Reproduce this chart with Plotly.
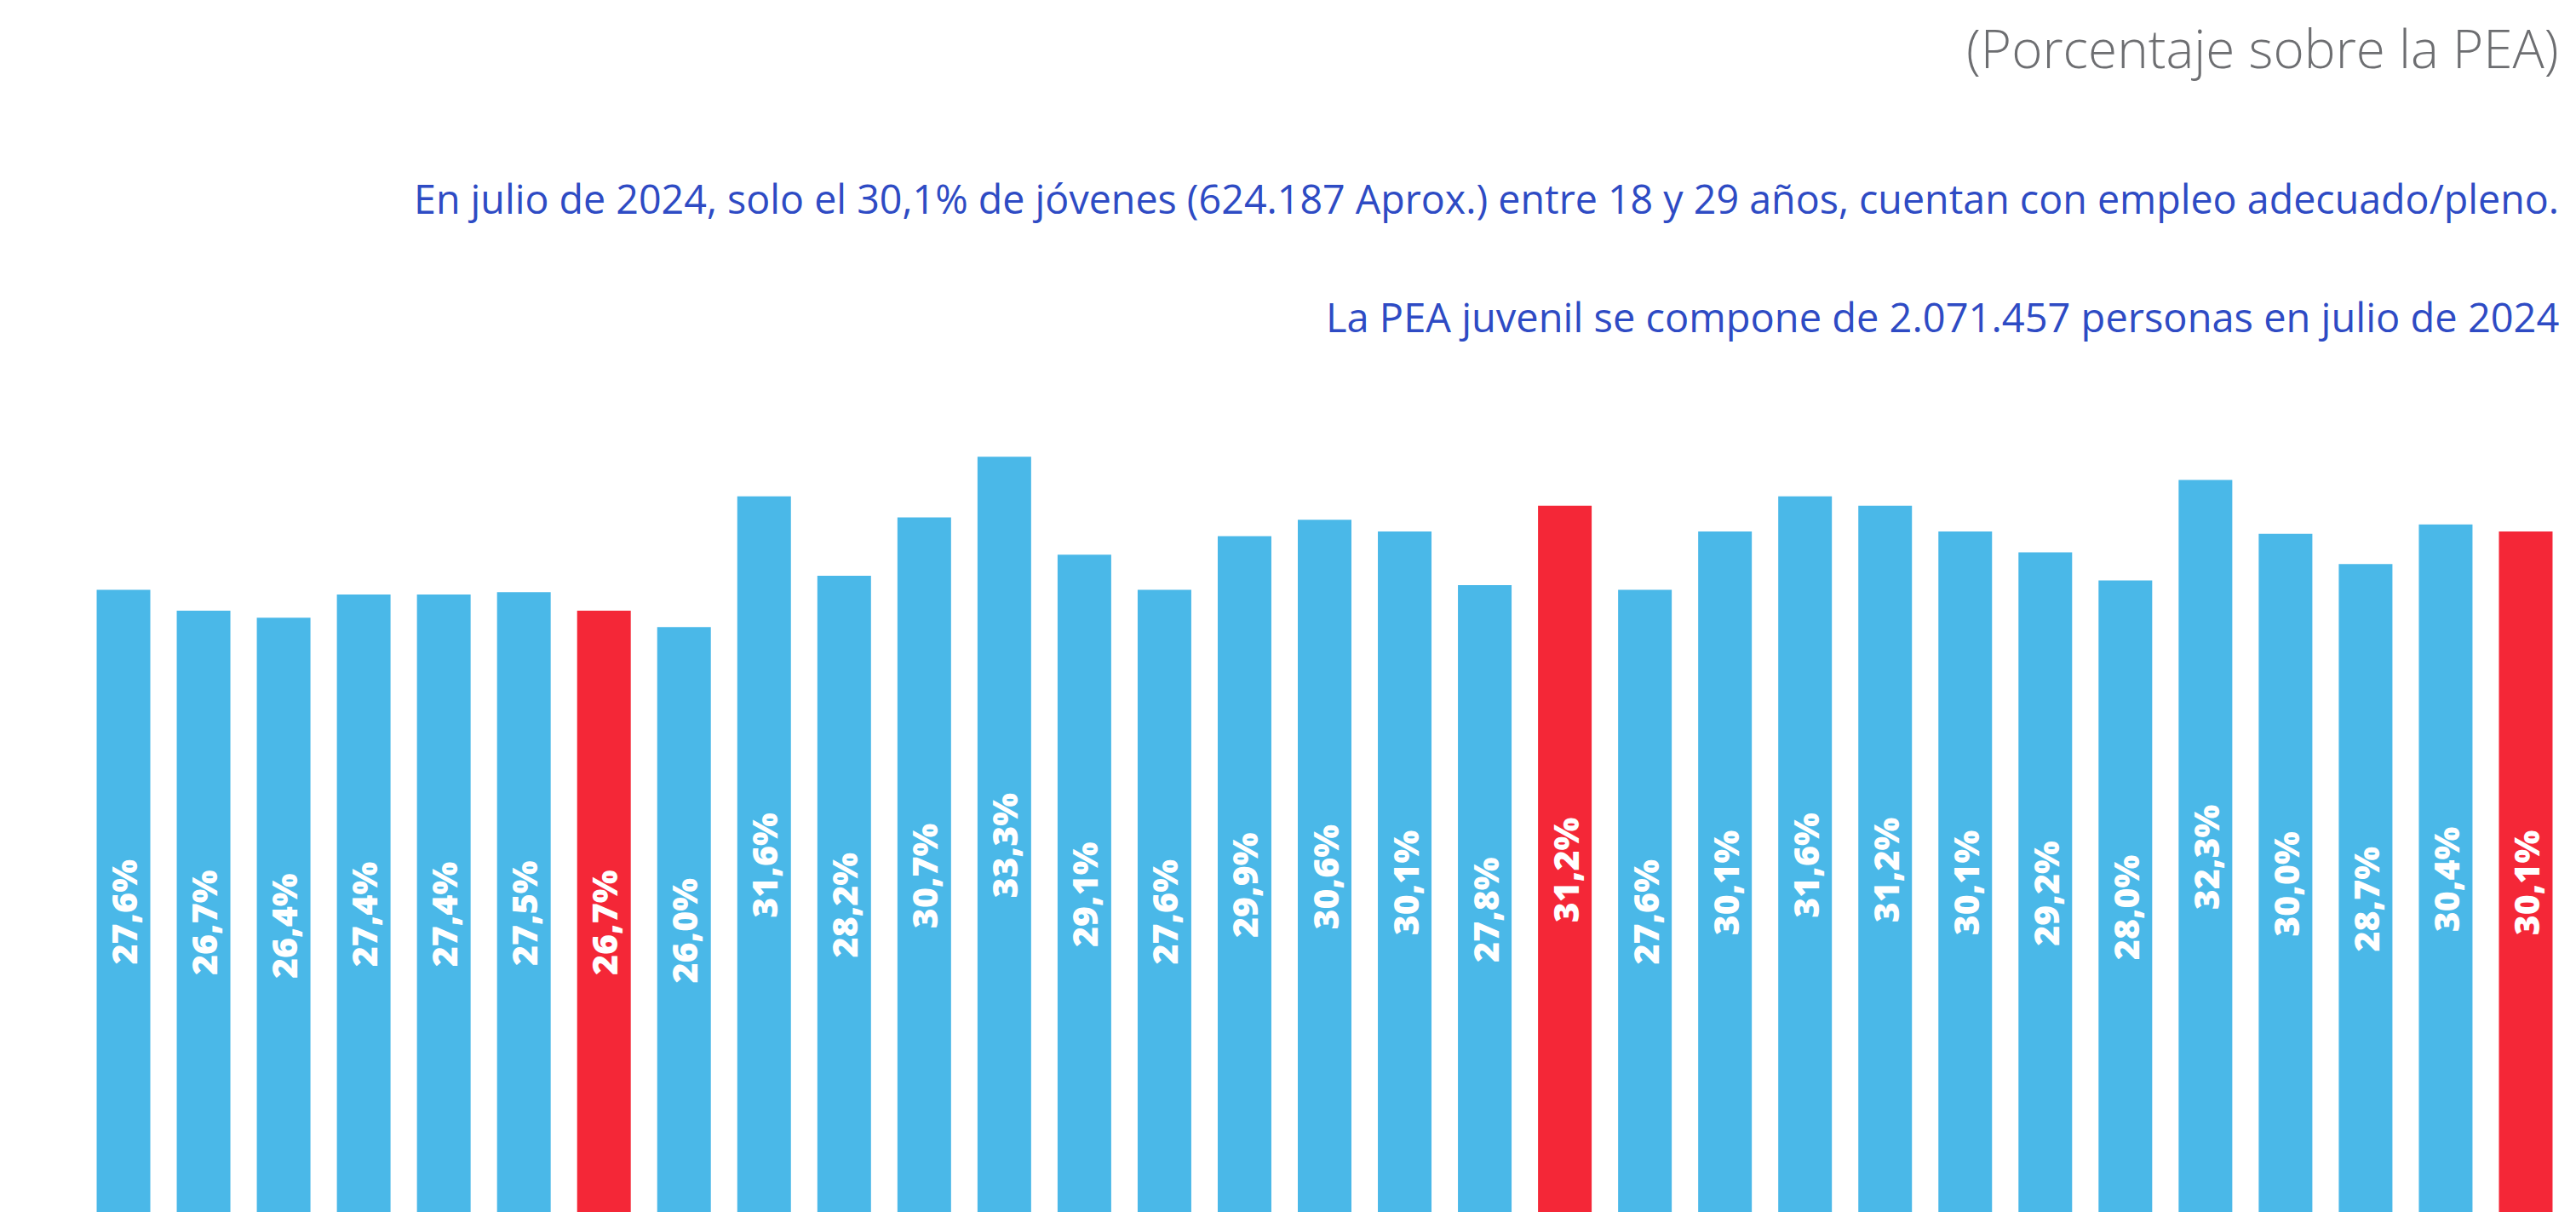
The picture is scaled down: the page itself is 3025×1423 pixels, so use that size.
import plotly.graph_objects as go

# ---- data ----
months = ["ene-22", "feb-22", "mar-22", "abr-22", "may-22", "jun-22", "jul-22",
          "ago-22", "sep-22", "oct-22", "nov-22", "dic-22",
          "ene-23", "feb-23", "mar-23", "abr-23", "may-23", "jun-23", "jul-23",
          "ago-23", "sep-23", "oct-23", "nov-23", "dic-23",
          "ene-24", "feb-24", "mar-24", "abr-24", "may-24", "jun-24", "jul-24"]
empleo_adecuado = [27.6, 26.7, 26.4, 27.4, 27.4, 27.5, 26.7,
                   26.0, 31.6, 28.2, 30.7, 33.3,
                   29.1, 27.6, 29.9, 30.6, 30.1, 27.8, 31.2,
                   27.6, 30.1, 31.6, 31.2, 30.1,
                   29.2, 28.0, 32.3, 30.0, 28.7, 30.4, 30.1]
highlight_months = ["jul-22", "jul-23", "jul-24"]

title_text = "(Porcentaje sobre la PEA)"
note_1 = ("En julio de 2024, solo el 30,1% de jóvenes (624.187 Aprox.) entre 18 y 29 años, "
          "cuentan con empleo adecuado/pleno.")
note_2 = "La PEA juvenil se compone de 2.071.457 personas en julio de 2024"

BLUE = "#4AB8E8"
RED = "#F42737"

colors = [RED if m in highlight_months else BLUE for m in months]
labels = [f"{v:.1f}%".replace(".", ",") for v in empleo_adecuado]

fig = go.Figure(
    go.Bar(
        x=months,
        y=empleo_adecuado,
        marker=dict(color=colors, line=dict(width=0)),
        text=labels,
        textposition="inside",
        insidetextanchor="middle",
        textangle=-90,
        textfont=dict(family="Open Sans, Lato, sans-serif", size=41, color="white", weight=800),
        cliponaxis=False,
        hoverinfo="skip",
    )
)

W, H = 3025, 1423
fig.update_layout(
    width=W, height=H,
    margin=dict(l=98, r=12, t=0, b=0),
    paper_bgcolor="white",
    plot_bgcolor="white",
    bargap=0.33,
    showlegend=False,
    xaxis=dict(visible=False, range=[-0.5, 30.5]),
    yaxis=dict(visible=False, range=[0.95, 52.86]),
    uniformtext=dict(minsize=30, mode="show"),
    annotations=[
        dict(text=title_text, xref="paper", yref="paper", x=1.0 - 6 / 2915, y=1 - 56 / H,
             xanchor="right", yanchor="middle", showarrow=False,
             font=dict(family="Open Sans, sans-serif", size=62, color="#6D6E71", weight=300)),
        dict(text=note_1, xref="paper", yref="paper", x=1.0 - 6 / 2915, y=1 - 233 / H,
             xanchor="right", yanchor="middle", showarrow=False,
             font=dict(family="Open Sans, sans-serif", size=46.6, color="#2E4BC4")),
        dict(text=note_2, xref="paper", yref="paper", x=1.0 - 6 / 2915, y=1 - 372 / H,
             xanchor="right", yanchor="middle", showarrow=False,
             font=dict(family="Open Sans, sans-serif", size=47, color="#2E4BC4")),
    ],
)

fig.write_html("out.html", config={"displayModeBar": False},
               post_script="document.body.style.margin='0';")
